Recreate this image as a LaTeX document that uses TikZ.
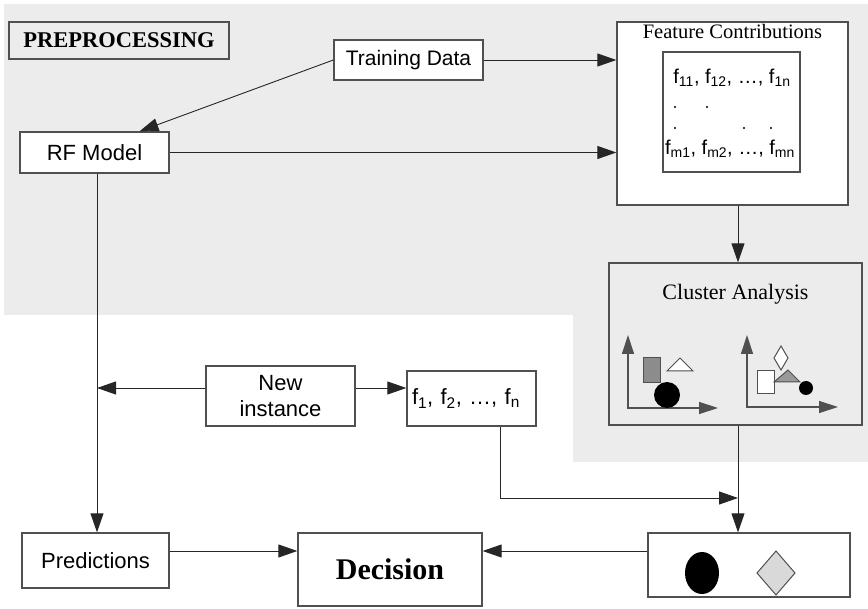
\documentclass[tikz,border=0pt]{standalone}
\usepackage{fontspec}
\setmainfont{Liberation Sans}
\newfontfamily\tnr{Liberation Serif}
\usepackage{tikz}
\usetikzlibrary{arrows.meta}
\usetikzlibrary{positioning}
\definecolor{bggray}{HTML}{EBECEB}
\definecolor{edgegray}{HTML}{505050}
\tikzset{
  box/.style={draw=edgegray, fill=white, line width=1.3pt, inner sep=0pt, align=center,
    font=\fontsize{22}{26}\selectfont},
  conn/.style={draw=black!85, line width=0.9pt, -{Triangle[length=19pt,width=13pt]}},
  axis/.style={draw=edgegray, line width=1.3pt,
    {Triangle[length=19pt,width=12pt]}-{Triangle[length=19pt,width=12pt]}},
  fsub/.style={font=\fontsize{20}{24}\selectfont},
}
\begin{document}
\begin{tikzpicture}[x=1pt, y=-1pt]
  \useasboundingbox (0,0) rectangle (868,609);
  \fill[bggray] (4,4) -- (868,4) -- (868,462) -- (573,462) -- (573,315) -- (4,315) -- cycle;

  \node[box, fill=none, minimum width=220pt, minimum height=37pt,
    font=\tnr\bfseries\fontsize{22.5}{26}\selectfont] (pre) at (119,40.5) {PREPROCESSING};
  \node[box, minimum width=149pt, minimum height=40pt, font=\fontsize{21}{25}\selectfont] (td)
    at (408.5,60) {Training Data};
  \node[box, minimum width=149pt, minimum height=41pt] (rf) at (94.5,152.5) {RF Model};

  \node[box, minimum width=231pt, minimum height=183pt] (fc) at (732.5,113.5) {};
  \node[below=3pt of fc.north, inner sep=0pt, font=\tnr\fontsize{20.5}{24}\selectfont] (fct)
    {Feature Contributions};
  \node[box, minimum width=137pt, minimum height=120pt] (fm) at (731.5,112) {};
  \node[fsub] (r1) at (732,78) {f\textsubscript{11}, f\textsubscript{12}, …, f\textsubscript{1n}};
  \node[fsub] (rm) at (730,149) {f\textsubscript{m1}, f\textsubscript{m2}, …, f\textsubscript{mn}};
  \foreach \x/\y in {675/107, 707/107, 675/128, 744/128, 771/128}
    \fill (\x,\y) circle (1.2);

  \node[box, fill=none, minimum width=253pt, minimum height=162pt] (ca) at (735.5,344) {};
  \node[below=22pt of ca.north, inner sep=0pt, font=\tnr\fontsize{22}{26}\selectfont] (cat)
    {Cluster Analysis};
  \draw[axis] (628,335) -- (628,408) -- (718,408);
  \draw[edgegray, fill=black!45, line width=1pt] (643,358) rectangle (660,383);
  \draw[edgegray, fill=white, line width=1pt] (667,371) -- (693,371) -- (680,358) -- cycle;
  \fill (667,395) circle (13);
  \draw[axis] (747,335) -- (747,407) -- (838,407);
  \draw[edgegray, fill=white, line width=1pt] (757,371) rectangle (774,394);
  \draw[edgegray, fill=black!40, line width=1pt] (774,382) -- (800,382) -- (788,370) -- cycle;
  \draw[edgegray, fill=white, line width=1pt] (781,346) -- (788,358) -- (781,370) -- (774,358) -- cycle;
  \fill (806,388) circle (7);

  \node[box, minimum width=149pt, minimum height=60pt] (ni) at (280.5,396) {New\\instance};
  \node[box, minimum width=129pt, minimum height=55pt, text width=119pt, align=left] (fv)
    at (471.5,398.5) {f\textsubscript{1}, f\textsubscript{2}, …, f\textsubscript{n}};

  \node[box, minimum width=147pt, minimum height=55pt] (pr) at (95.5,560.5) {Predictions};
  \node[box, minimum width=184pt, minimum height=73pt,
    font=\tnr\bfseries\fontsize{30}{34}\selectfont] (dc) at (390,569.5) {Decision};
  \node[box, minimum width=202pt, minimum height=64pt] (rs) at (749,565) {};
  \fill (702,573) ellipse [x radius=17, y radius=21];
  \draw[edgegray, fill=black!15, line width=1pt] (776,551) -- (795,573) -- (776,595) -- (757,573) -- cycle;

  \coordinate (trunk) at (97,0);
  \coordinate (spine) at (738,0);
  \coordinate (join) at (738,498);
  \coordinate (ny) at ([yshift=8pt]ni.west);
  \coordinate (ry) at ([yshift=14pt]rs.west);
  \coordinate (py) at ([yshift=9.5pt]pr.east);

  \draw[conn] (td.west) -- ([xshift=45pt]rf.north);
  \draw[conn] (td.east) -- (td.east -| fc.west);
  \draw[conn] (rf.east) -- (rf.east -| fc.west);
  \draw[conn] (fc.south -| spine) -- (ca.north -| spine);
  \draw[conn] (rf.south -| trunk) -- (pr.north -| trunk);
  \draw[conn] (ny) -- (ny -| trunk);
  \draw[conn] (ny -| ni.east) -- (ny -| fv.west);
  \draw[conn] ([xshift=28.5pt]fv.south) |- (join);
  \draw[conn] (ca.south -| spine) -- (rs.north -| spine);
  \draw[conn] (ry) -- (ry -| dc.east);
  \draw[conn] (py) -- (py -| dc.west);
\end{tikzpicture}
\end{document}
